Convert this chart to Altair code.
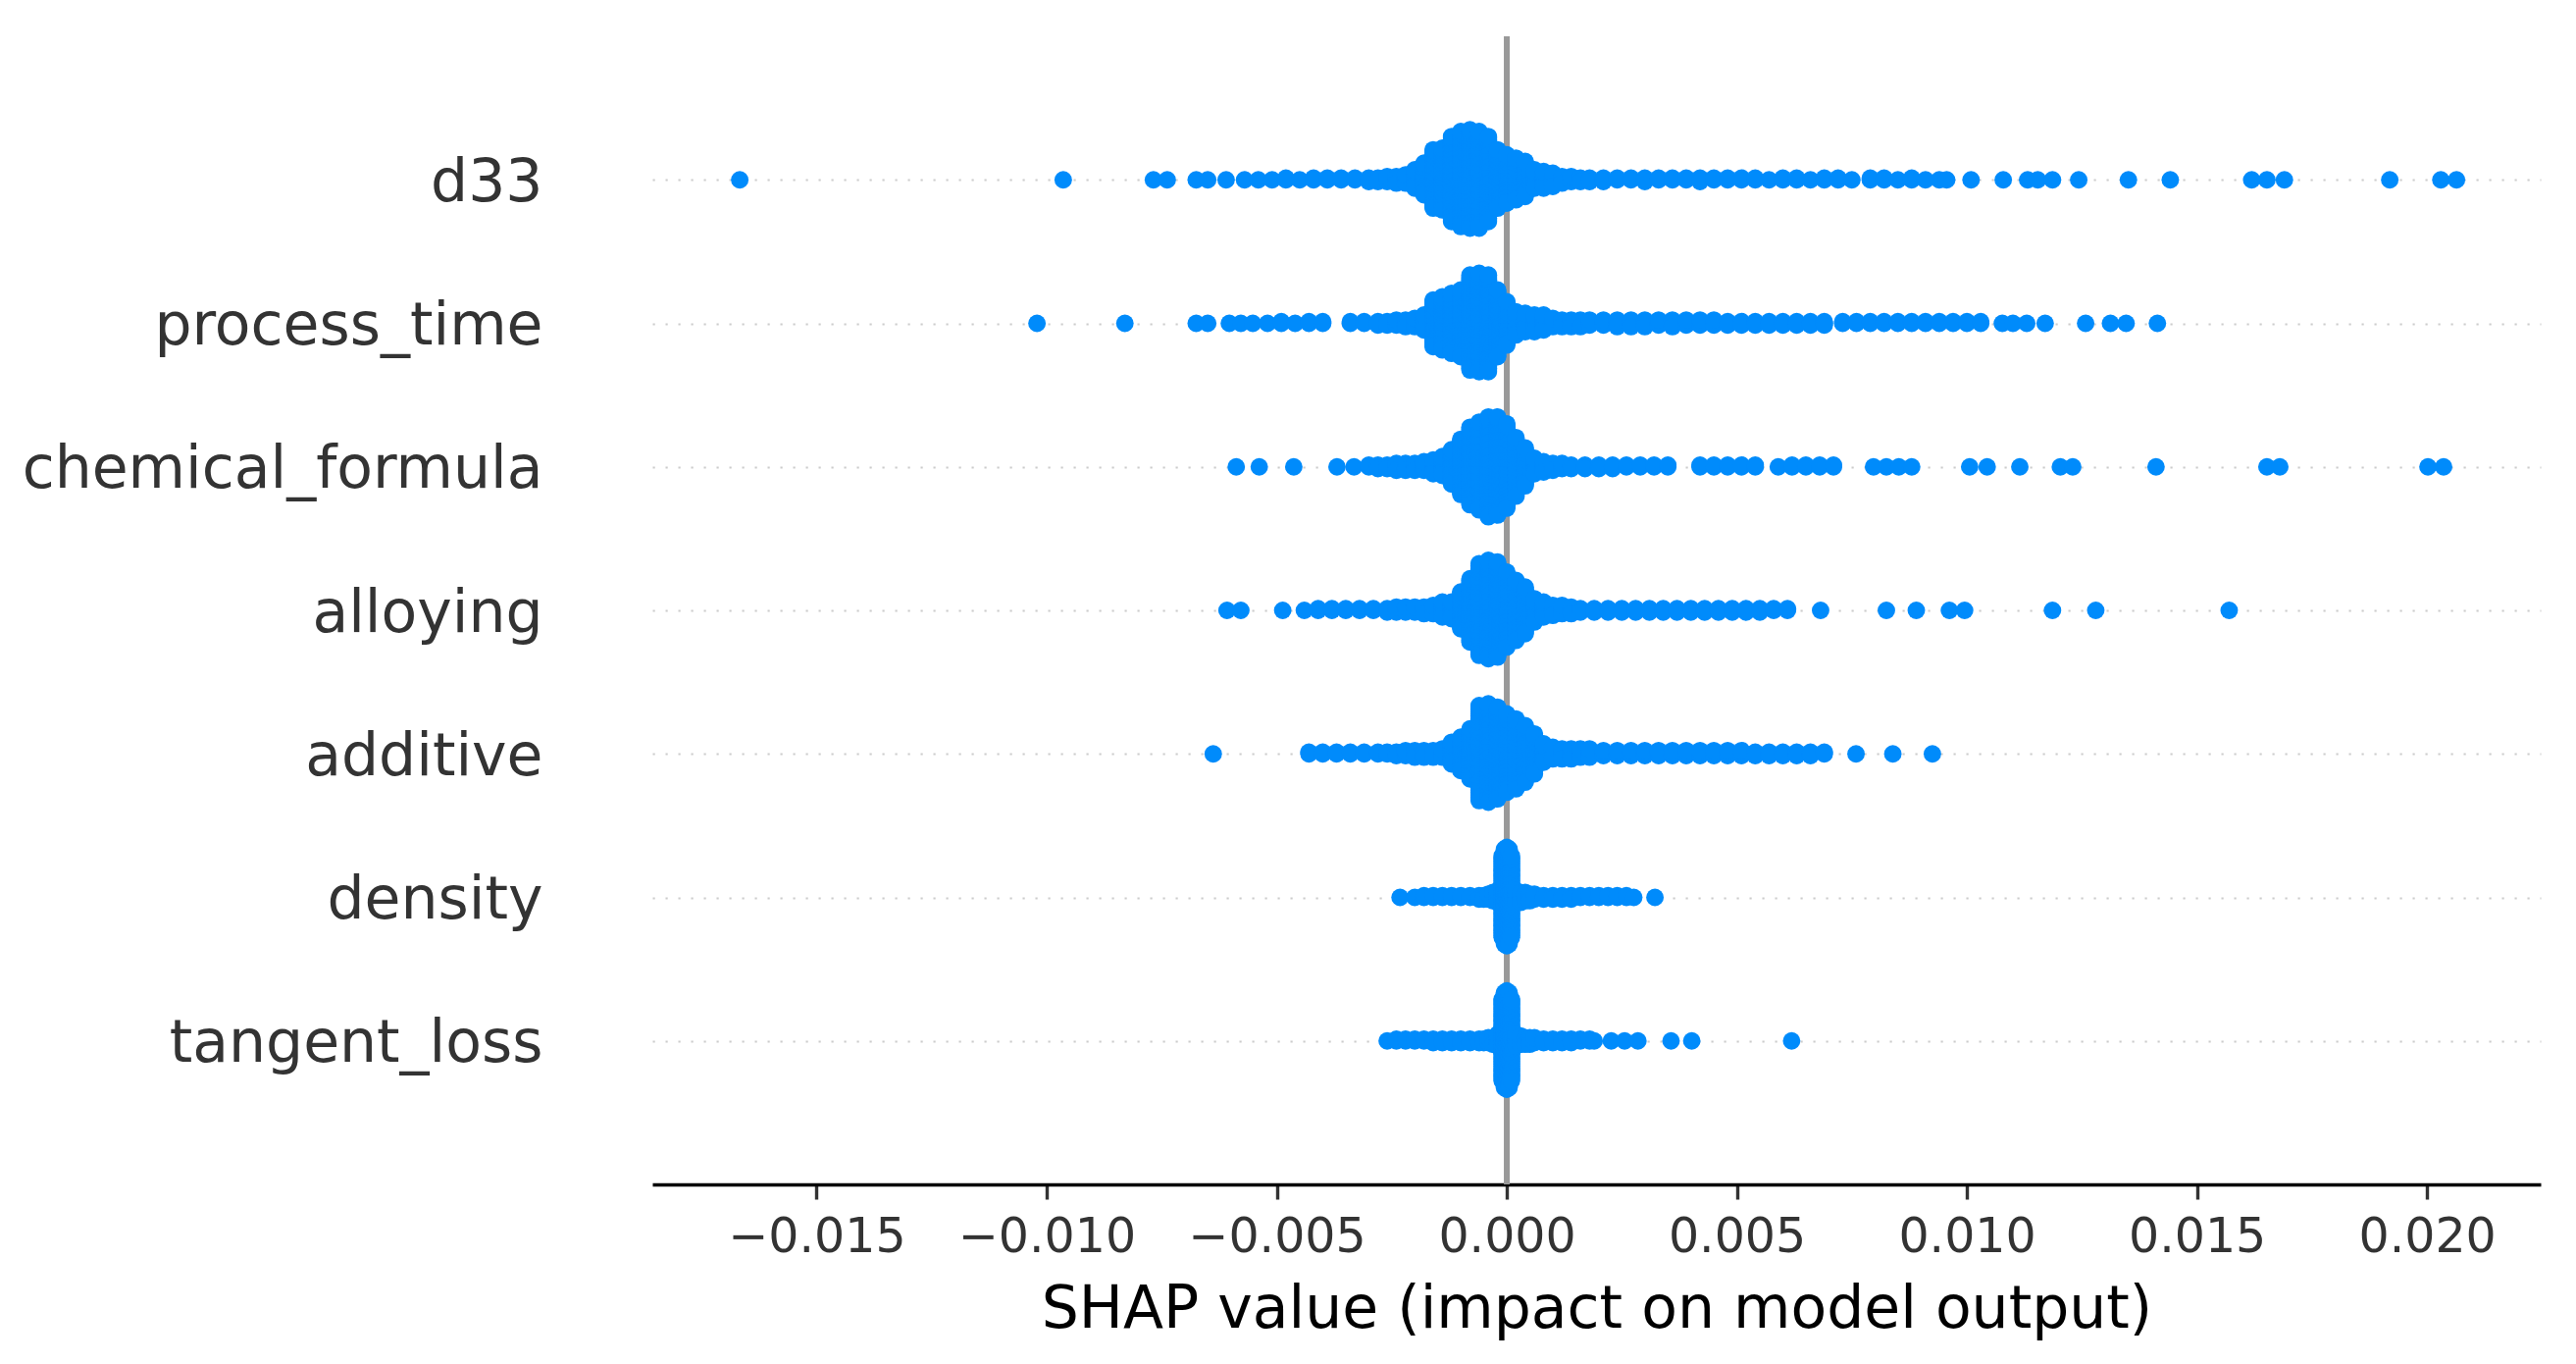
import json
import math
import altair as alt
import pandas as pd

# ---------------- data ----------------
features = ["d33", "process_time", "chemical_formula", "alloying",
            "additive", "density", "tangent_loss"]

x_ticks = [-0.015, -0.010, -0.005, 0.000, 0.005, 0.010, 0.015, 0.020]

# SHAP value positions and number of samples stacked at each position
d33_vals = [
    -0.01667, -0.00964, -0.00768, -0.00738, -0.00675, -0.0065, -0.0061,
    -0.0057, -0.0054, -0.0051, -0.0048, -0.0045, -0.0042, -0.0039, -0.0036, -0.0033, -0.0030,
    -0.0028, -0.0026, -0.0024, -0.0022, -0.0020, -0.0018, -0.0016, -0.0014, -0.0012, -0.0010,
    -0.0008, -0.0006, -0.0004, -0.0002, 0.0, 0.0002, 0.0004, 0.0006, 0.0008, 0.0010, 0.0012,
    0.0014, 0.0016,
    0.0018, 0.0021, 0.0024, 0.0027, 0.0030, 0.0033, 0.0036, 0.0039, 0.0042, 0.0045, 0.0048,
    0.0051, 0.0054, 0.0057, 0.0060, 0.0063, 0.0066, 0.0069, 0.0072, 0.0075,
    0.0079, 0.0082, 0.0085, 0.0088, 0.0091, 0.0094, 0.00956,
    0.01009, 0.01079, 0.01132, 0.01154, 0.01186, 0.01243, 0.01351, 0.01442, 0.01619, 0.01652,
    0.0169, 0.01919, 0.0203, 0.02064]
d33_counts = [
    1, 1, 1, 1, 1, 1, 1,
    1, 1, 1, 2, 1, 2, 2, 2, 2, 3,
    3, 4, 5, 6, 12, 20, 36, 38, 52, 58, 60, 59, 52, 36, 30, 26, 22, 12, 11, 9, 5, 4, 3,
    3, 3, 2, 2, 3, 2, 2, 2, 3, 2, 2, 2, 2, 1, 2, 2, 1, 2, 2, 1,
    2, 2, 1, 2, 1, 1, 1,
    1, 1, 1, 1, 1, 1, 1, 1, 1, 1, 1, 1, 1, 1]

process_time_vals = [
    -0.01021, -0.0083, -0.00675, -0.0065, -0.00603, -0.00578, -0.00552,
    -0.0052, -0.0049, -0.0046, -0.0043, -0.0040, -0.0034, -0.0031,
    -0.0028, -0.0026, -0.0024, -0.0022, -0.0020, -0.0018, -0.0016, -0.0014, -0.0012, -0.0010,
    -0.0008, -0.0006, -0.0004, -0.0002, 0.0, 0.0002, 0.0004, 0.0006, 0.0008, 0.0010, 0.0012,
    0.0014, 0.0016,
    0.0018, 0.0021, 0.0024, 0.0027, 0.0030, 0.0033, 0.0036, 0.0039, 0.0042, 0.0045, 0.0048,
    0.0051, 0.0054, 0.0057, 0.0060, 0.0063, 0.0066, 0.0069,
    0.0073, 0.0076, 0.0079, 0.0082, 0.0085, 0.0088, 0.0091, 0.0094, 0.0097, 0.0100, 0.0103,
    0.01077, 0.0110, 0.0113, 0.0117, 0.01258, 0.01312, 0.01346, 0.01414]
process_time_counts = [
    1, 1, 1, 1, 1, 1, 1,
    1, 2, 1, 2, 2, 2, 2,
    3, 3, 4, 5, 6, 10, 29, 33, 37, 41, 58, 60, 59, 41, 27, 15, 12, 11, 10, 6, 5, 5, 5,
    4, 4, 5, 5, 5, 4, 5, 4, 4, 4, 3, 3, 3, 3, 3, 3, 3, 3,
    2, 2, 2, 2, 2, 2, 2, 2, 2, 2, 2,
    1, 1, 1, 1, 1, 1, 1, 1]

chemical_formula_vals = [
    -0.00588, -0.00538, -0.00463, -0.00369, -0.00332,
    -0.0030,
    -0.0028, -0.0026, -0.0024, -0.0022, -0.0020, -0.0018, -0.0016, -0.0014, -0.0012, -0.0010,
    -0.0008, -0.0006, -0.0004, -0.0002, 0.0, 0.0002, 0.0004, 0.0006, 0.0008, 0.0010, 0.0012,
    0.0014, 0.0017, 0.0020, 0.0023, 0.0026, 0.0029, 0.0032, 0.0035,
    0.0042, 0.0045, 0.0048, 0.0051, 0.0054,
    0.0059,
    0.0062, 0.0065, 0.0068, 0.0071,
    0.00797, 0.00825, 0.00852, 0.0088,
    0.01006, 0.01044, 0.01115, 0.01203, 0.0123, 0.01411, 0.01652, 0.0168, 0.02002, 0.02036]
chemical_formula_counts = [
    1, 1, 1, 1, 1,
    2,
    3, 3, 5, 5, 5, 6, 9, 12, 21, 33, 46, 52, 59, 58, 50, 35, 23, 10, 7, 5, 4,
    3, 3, 3, 3, 2, 2, 2, 2,
    2, 2, 2, 2, 2,
    1,
    2, 2, 2, 2,
    1, 1, 1, 1,
    1, 1, 1, 1, 1, 1, 1, 1, 1, 1]

alloying_vals = [
    -0.00608, -0.00578, -0.00487,
    -0.0044, -0.0041, -0.0038, -0.0035, -0.0032, -0.0029,
    -0.0026, -0.0024, -0.0022, -0.0020, -0.0018, -0.0016, -0.0014, -0.0012, -0.0010, -0.0008,
    -0.0006, -0.0004, -0.0002, 0.0, 0.0002, 0.0004, 0.0006, 0.0008, 0.0010, 0.0012, 0.0014,
    0.0016, 0.0019, 0.0022, 0.0025, 0.0028, 0.0031, 0.0034, 0.0037, 0.0040, 0.0043, 0.0046,
    0.0049, 0.0052, 0.0055, 0.0058, 0.0061,
    0.00682, 0.00825, 0.0089, 0.00962, 0.00995, 0.01186, 0.0128, 0.0157]
alloying_counts = [
    1, 1, 1,
    1, 2, 2, 2, 2, 2,
    3, 4, 4, 4, 5, 6, 10, 11, 23, 39, 56, 60, 58, 46, 37, 29, 15, 10, 7, 6, 5,
    3, 3, 3, 3, 3, 3, 3, 3, 3, 3, 3, 3, 3, 3, 2, 2,
    1, 1, 1, 1, 1, 1, 1, 1]

additive_vals = [
    -0.00638,
    -0.0043, -0.0040, -0.0037, -0.0034, -0.0031, -0.0028,
    -0.0026, -0.0024, -0.0022, -0.0020, -0.0018, -0.0016, -0.0014, -0.0012, -0.0010, -0.0008,
    -0.0006, -0.0004, -0.0002, 0.0, 0.0002, 0.0004, 0.0006, 0.0008, 0.0010, 0.0012, 0.0014,
    0.0016, 0.0018,
    0.0021, 0.0024, 0.0027, 0.0030, 0.0033, 0.0036, 0.0039, 0.0042, 0.0045, 0.0048, 0.0051,
    0.0054, 0.0057, 0.0060, 0.0063, 0.0066, 0.0069,
    0.00759, 0.00839, 0.00925]
additive_counts = [
    1,
    2, 2, 2, 2, 2, 2,
    2, 3, 4, 5, 5, 5, 6, 14, 21, 31, 58, 60, 56, 48, 43, 35, 25, 12, 8, 7, 7, 6, 6,
    4, 4, 4, 4, 4, 4, 4, 4, 4, 4, 4, 3, 3, 3, 3, 3, 2,
    1, 1, 1]

density_vals = [
    -0.00232, -0.0020, -0.0018, -0.0016, -0.0014, -0.0012, -0.0010, -0.0008, -0.0006, -0.0005,
    -0.0004, -0.0003, -0.0002, -0.0001, -0.00005, 0.0, 0.00005, 0.0001, 0.0002, 0.0003,
    0.0004, 0.0005, 0.0006, 0.0008, 0.0010, 0.0012, 0.0014, 0.0016, 0.0018, 0.0020,
    0.0022, 0.0024, 0.0026, 0.00276, 0.00322]
density_counts = [
    1, 1, 2, 2, 2, 2, 2, 2, 3, 3,
    4, 6, 8, 50, 58, 60, 58, 50, 8, 7,
    6, 5, 4, 3, 3, 3, 3, 2, 2, 2,
    2, 2, 2, 1, 1]

tangent_loss_vals = [
    -0.0026, -0.0024, -0.0022, -0.0020, -0.0018, -0.0016, -0.0014, -0.0012, -0.0010, -0.0008,
    -0.0006, -0.0005, -0.0004, -0.0003, -0.0002, -0.0001, -0.00005, 0.0, 0.00005, 0.0001,
    0.0002, 0.0003, 0.0004, 0.0005, 0.0006, 0.0008, 0.0010, 0.0012, 0.0014, 0.0016,
    0.0018, 0.0019, 0.00227, 0.00256, 0.00285, 0.00357, 0.00402, 0.00619]
tangent_loss_counts = [
    1, 2, 2, 2, 2, 3, 3, 3, 3, 3,
    3, 3, 4, 5, 8, 50, 58, 60, 58, 50,
    8, 6, 5, 5, 4, 3, 3, 3, 3, 2,
    2, 1, 1, 1, 1, 1, 1, 1]

series = {
    "d33": (d33_vals, d33_counts),
    "process_time": (process_time_vals, process_time_counts),
    "chemical_formula": (chemical_formula_vals, chemical_formula_counts),
    "alloying": (alloying_vals, alloying_counts),
    "additive": (additive_vals, additive_counts),
    "density": (density_vals, density_counts),
    "tangent_loss": (tangent_loss_vals, tangent_loss_counts),
}

# ---------------- beeswarm layout (shap style) ----------------
row_height = 0.4
n_feat = len(features)
records = []
for i, feat in enumerate(features):
    pos = n_feat - 1 - i
    vals, counts = series[feat]
    pts = []
    for v, c in zip(vals, counts):
        for layer in range(c):
            ys = math.ceil(layer / 2) * ((layer % 2) * 2 - 1)
            pts.append((v, ys))
    m = max(y for _, y in pts) + 1
    for v, ys in pts:
        records.append({"feature": feat, "shap": v,
                        "ypos": pos + ys * 0.9 * row_height / m})
df = pd.DataFrame(records)

# ---------------- chart ----------------
FONT = "DejaVu Sans"
x_scale = alt.Scale(domain=[-0.01857, 0.02247], nice=False, zero=False)
y_scale = alt.Scale(domain=[-1, n_feat], nice=False, zero=False)

x_axis = alt.Axis(
    values=x_ticks, format=".3f", grid=False,
    domainColor="#000000", domainWidth=3.4,
    tickColor="#333333", tickWidth=3.4, tickSize=15,
    labelFont=FONT, labelFontSize=49, labelColor="#333333", labelPadding=14,
    labelFlush=False, labelOverlap=False, labelLimit=1000,
    title="SHAP value (impact on model output)",
    titleFont=FONT, titleFontSize=60, titleFontWeight="normal",
    titleColor="#000000", titlePadding=20, titleLimit=3000,
)

label_expr = json.dumps(features[::-1]) + "[datum.value]"
y_axis = alt.Axis(
    values=list(range(n_feat)), labelExpr=label_expr,
    domain=False, ticks=False,
    grid=True, gridColor="#cccccc", gridDash=[2.2, 10.8], gridWidth=2.2,
    labelFont=FONT, labelFontSize=60, labelColor="#333333", labelPadding=112,
    labelOffset=3,
    labelOverlap=False, labelBound=False, labelLimit=1000, title=None,
)

zero_line = alt.Chart(pd.DataFrame({"z": [0.0]})).mark_rule(
    color="#999999", strokeWidth=6
).encode(x=alt.X("z:Q", scale=x_scale, axis=x_axis))

points = alt.Chart(df).mark_circle(
    size=320, color="#008bfb", opacity=1, strokeWidth=0
).encode(
    x=alt.X("shap:Q", scale=x_scale, axis=x_axis),
    y=alt.Y("ypos:Q", scale=y_scale, axis=y_axis),
)

chart = alt.layer(zero_line, points).properties(
    width=1925, height=1170,
    autosize=alt.AutoSizeParams(type="none"),
    padding={"left": 657, "top": 29, "right": 24, "bottom": 175},
    background="white",
).configure_view(stroke=None)

chart.save("out.html", embed_options={"renderer": "svg", "actions": False})
